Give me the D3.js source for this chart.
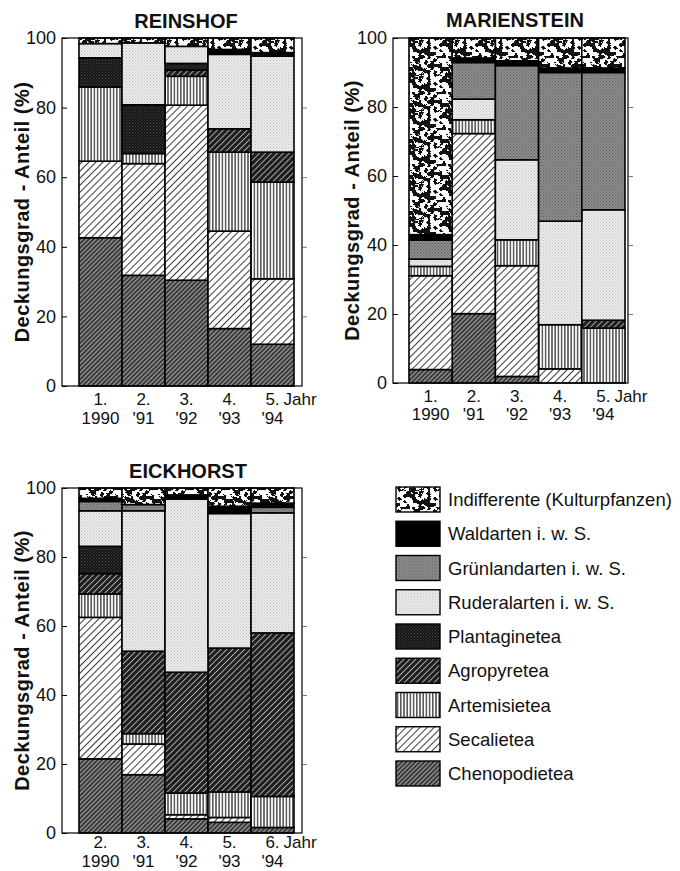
<!DOCTYPE html>
<html>
<head>
<meta charset="utf-8">
<script src="https://cdn.jsdelivr.net/npm/d3@7"></script>
<style>
  html, body { margin: 0; padding: 0; background: #fff; }
  svg { display: block; font-family: "Liberation Sans", Arial, Helvetica, sans-serif; }
</style>
</head>
<body>
<svg id="chart" width="680" height="871"></svg>
<script>
// ---------------- DATA ----------------
// stacking order bottom -> top
const categories = ["Chenopodietea", "Secalietea", "Artemisietea", "Agropyretea", "Plantaginetea",
  "Ruderalarten i. w. S.", "Grünlandarten i. w. S.", "Waldarten i. w. S.", "Indifferente (Kulturpfanzen)"];
const categoryKeys = ["cheno", "secal", "artem", "agro", "plant", "rud", "gruen", "wald", "indiff"];

const yearLabels = ["1990", "'91", "'92", "'93", "'94"];
const reinshofYearNumbers = ["1.", "2.", "3.", "4.", "5."];
const mariensteinYearNumbers = ["1.", "2.", "3.", "4.", "5."];
const eickhorstYearNumbers = ["2.", "3.", "4.", "5.", "6."];
const yTicks = [0, 20, 40, 60, 80, 100];

// Reinshof (% cover per category, years 1990..94)
const reinshofCheno  = [42.6, 31.8, 30.4, 16.5, 12.0];
const reinshofSecal  = [22.0, 32.1, 50.3, 28.0, 18.8];
const reinshofArtem  = [21.3,  2.9,  8.3, 22.7, 27.8];
const reinshofAgro   = [ 0.0,  0.0,  1.8,  6.7,  8.6];
const reinshofPlant  = [ 8.4, 14.0,  1.9,  0.0,  0.0];
const reinshofRud    = [ 4.1, 17.8,  4.9, 21.4, 27.6];
const reinshofGruen  = [ 0.0,  0.0,  0.0,  0.0,  0.0];
const reinshofWald   = [ 0.0,  0.0,  0.0,  1.4,  1.0];
const reinshofIndiff = [ 1.6,  1.4,  2.4,  3.3,  4.2];

// Marienstein
const mariensteinCheno  = [ 3.9, 20.1,  1.9,  0.0,  0.0];
const mariensteinSecal  = [27.2, 52.2, 32.1,  4.1,  0.0];
const mariensteinArtem  = [ 2.7,  4.0,  7.5, 12.8, 15.9];
const mariensteinAgro   = [ 0.0,  0.0,  0.0,  0.0,  2.3];
const mariensteinPlant  = [ 0.0,  0.0,  0.0,  0.0,  0.0];
const mariensteinRud    = [ 2.1,  6.0, 23.2, 30.0, 32.0];
const mariensteinGruen  = [ 5.5, 10.6, 27.3, 43.1, 39.8];
const mariensteinWald   = [ 1.6,  1.3,  1.4,  1.3,  1.3];
const mariensteinIndiff = [57.0,  5.8,  6.6,  8.7,  8.7];

// Eickhorst
const eickhorstCheno  = [21.5, 16.9,  4.1,  3.1,  1.6];
const eickhorstSecal  = [41.0,  8.9,  1.2,  1.4,  0.0];
const eickhorstArtem  = [ 6.8,  3.0,  6.3,  7.4,  9.0];
const eickhorstAgro   = [ 5.9, 23.9, 35.0, 41.7, 47.4];
const eickhorstPlant  = [ 7.9,  0.0,  0.0,  0.0,  0.0];
const eickhorstRud    = [10.3, 40.7, 50.2, 39.0, 34.8];
const eickhorstGruen  = [ 2.7,  1.8,  0.0,  0.0,  1.6];
const eickhorstWald   = [ 0.9,  0.0,  1.2,  2.1,  1.2];
const eickhorstIndiff = [ 3.0,  4.8,  2.0,  5.3,  4.4];

// ---------------- BUILD TABLES ----------------
function buildRows(numbers, series) {
  return numbers.map((n, i) => {
    const row = { id: i, num: n, year: yearLabels[i] };
    categoryKeys.forEach((k, j) => { row[k] = series[j][i]; });
    return row;
  });
}
const reinshofRows = buildRows(reinshofYearNumbers, [reinshofCheno, reinshofSecal, reinshofArtem, reinshofAgro,
  reinshofPlant, reinshofRud, reinshofGruen, reinshofWald, reinshofIndiff]);
const mariensteinRows = buildRows(mariensteinYearNumbers, [mariensteinCheno, mariensteinSecal, mariensteinArtem,
  mariensteinAgro, mariensteinPlant, mariensteinRud, mariensteinGruen, mariensteinWald, mariensteinIndiff]);
const eickhorstRows = buildRows(eickhorstYearNumbers, [eickhorstCheno, eickhorstSecal, eickhorstArtem, eickhorstAgro,
  eickhorstPlant, eickhorstRud, eickhorstGruen, eickhorstWald, eickhorstIndiff]);

// ---------------- PATTERNS ----------------
const svg = d3.select("#chart");
const defs = svg.append("defs");

function hatch(id, bg, stroke, spacing, width, angle) {
  const p = defs.append("pattern").attr("id", id).attr("patternUnits", "userSpaceOnUse")
    .attr("width", spacing).attr("height", spacing)
    .attr("patternTransform", `rotate(${angle})`);
  p.append("rect").attr("width", spacing).attr("height", spacing).attr("fill", bg);
  p.append("line").attr("x1", spacing / 2).attr("x2", spacing / 2).attr("y1", -1).attr("y2", spacing + 1)
    .attr("stroke", stroke).attr("stroke-width", width);
}
function stipple(id, bg, dot, size) {
  const p = defs.append("pattern").attr("id", id).attr("patternUnits", "userSpaceOnUse")
    .attr("width", size).attr("height", size);
  p.append("rect").attr("width", size).attr("height", size).attr("fill", bg);
  p.append("rect").attr("x", 0).attr("y", 0).attr("width", 1).attr("height", 1).attr("fill", dot);
  p.append("rect").attr("x", size / 2).attr("y", size / 2).attr("width", 1).attr("height", 1).attr("fill", dot);
}
// organic speckle texture (deterministic value noise, periodic tile)
function speckle(id) {
  const tile = 36, coarse = 3, g = tile / coarse;
  const p = defs.append("pattern").attr("id", id).attr("patternUnits", "userSpaceOnUse")
    .attr("width", tile).attr("height", tile);
  p.append("rect").attr("width", tile).attr("height", tile).attr("fill", "#fff");
  const h = (i, j) => { i = ((i % g) + g) % g; j = ((j % g) + g) % g;
    const s = Math.sin(i * 12.9898 + j * 78.233) * 43758.5453; return s - Math.floor(s); };
  const sm = t => t * t * (3 - 2 * t);
  const val = (px, py) => {
    const fx = px / coarse, fy = py / coarse, i = Math.floor(fx), j = Math.floor(fy);
    const tx = sm(fx - i), ty = sm(fy - j);
    const a = h(i, j), b = h(i + 1, j), c = h(i, j + 1), d = h(i + 1, j + 1);
    return (a * (1 - tx) + b * tx) * (1 - ty) + (c * (1 - tx) + d * tx) * ty;
  };
  const cells = [];
  for (let x = 0; x < tile; x++) for (let y = 0; y < tile; y++) {
    const v = val(x + 0.5, y + 0.5) * 0.8 + h(x * 7 + 3, y * 5 + 1) * 0.2;
    if (v > 0.5) cells.push([x, y]);
  }
  p.selectAll("rect.c").data(cells).join("rect").attr("class", "c")
    .attr("x", d => d[0]).attr("y", d => d[1])
    .attr("width", 1.05).attr("height", 1.05).attr("fill", "#111");
}

speckle("p-indiff");
stipple("p-gruen", "#8e8e8e", "#5a5a5a", 3);
stipple("p-rud", "#ececec", "#c0c0c0", 3);
stipple("p-plant", "#141414", "#4a4a4a", 3);
hatch("p-agro", "#1e1e1e", "#b5b5b5", 4.2, 0.9, 45);
hatch("p-artem", "#ffffff", "#111", 3.2, 1.1, 0);
hatch("p-secal", "#ffffff", "#222", 5, 0.9, 45);
hatch("p-cheno", "#858585", "#222", 3.2, 1.3, 45);

const fills = {
  cheno: "url(#p-cheno)", secal: "url(#p-secal)", artem: "url(#p-artem)", agro: "url(#p-agro)",
  plant: "url(#p-plant)", rud: "url(#p-rud)", gruen: "url(#p-gruen)", wald: "#000", indiff: "url(#p-indiff)"
};

// ---------------- PANELS ----------------
function panel(cfg) {
  const { rows, title, x0, x1, top, bottom, barStart, barEnd, titleX, titleY, axisTitleX, lab1, lab2 } = cfg;
  const g = svg.append("g");
  const x = d3.scaleBand().domain(rows.map(r => r.id)).range([barStart, barEnd]).padding(0);
  const y = d3.scaleLinear().domain([0, 100]).range([bottom, top]);

  // bars
  const stack = d3.stack().keys(categoryKeys);
  const series = stack(rows);
  g.append("g").selectAll("g").data(series).join("g")
    .attr("fill", d => fills[d.key])
    .selectAll("rect").data(d => d.filter(s => s[1] - s[0] > 0)).join("rect")
    .attr("x", d => x(d.data.id))
    .attr("width", x.bandwidth())
    .attr("y", d => y(d[1]))
    .attr("height", d => y(d[0]) - y(d[1]))
    .attr("stroke", "#000").attr("stroke-width", 1.6);

  // frame
  g.append("rect").attr("x", x0).attr("y", top).attr("width", x1 - x0).attr("height", bottom - top)
    .attr("fill", "none").attr("stroke", "#000").attr("stroke-width", 1.2);

  // axes
  const left = g.append("g").attr("transform", `translate(${x0},0)`)
    .call(d3.axisLeft(y).tickValues(yTicks).tickSize(-5).tickPadding(6));
  left.select(".domain").remove();
  left.selectAll("text").attr("font-size", 18).attr("fill", "#111").attr("font-family", "inherit");
  left.selectAll("line").attr("stroke-width", 1);

  const right = g.append("g").attr("transform", `translate(${x1},0)`)
    .call(d3.axisRight(y).tickValues([20, 40, 60, 80]).tickSize(5).tickFormat(""));
  right.select(".domain").remove();
  right.selectAll("line").attr("stroke-width", 0.8).attr("stroke", "#555");

  // x labels
  const lab = g.append("g").attr("font-size", 17).attr("fill", "#111").attr("text-anchor", "middle");
  lab.selectAll("text.n").data(rows).join("text").attr("class", "n")
    .attr("x", d => x(d.id) + x.bandwidth() / 2).attr("y", bottom + lab1).text(d => d.num);
  lab.selectAll("text.y").data(rows).join("text").attr("class", "y")
    .attr("x", d => x(d.id) + x.bandwidth() / 2).attr("y", bottom + lab2).text(d => d.year);
  const last = rows[rows.length - 1];
  lab.append("text").attr("text-anchor", "start")
    .attr("x", x(last.id) + x.bandwidth() / 2 + 11).attr("y", bottom + lab1).text("Jahr");

  // title
  g.append("text").attr("x", titleX).attr("y", titleY).attr("text-anchor", "middle")
    .attr("font-size", 20).attr("font-weight", "bold").attr("fill", "#111").text(title);

  // axis title
  g.append("text").attr("transform", `translate(${axisTitleX},${(top + bottom) / 2 + 0}) rotate(-90)`)
    .attr("text-anchor", "middle").attr("font-size", 20).attr("font-weight", "bold")
    .attr("letter-spacing", 0.5).attr("fill", "#111").text("Deckungsgrad - Anteil (%)");
}

panel({ rows: reinshofRows, title: "REINSHOF", x0: 62, x1: 302, top: 38, bottom: 386,
  barStart: 79, barEnd: 294, titleX: 186, titleY: 28, axisTitleX: 29, lab1: 19, lab2: 38 });
panel({ rows: mariensteinRows, title: "MARIENSTEIN", x0: 393, x1: 628, top: 38, bottom: 383,
  barStart: 409, barEnd: 625, titleX: 515, titleY: 27, axisTitleX: 359, lab1: 19, lab2: 37 });
panel({ rows: eickhorstRows, title: "EICKHORST", x0: 62, x1: 302, top: 488, bottom: 833,
  barStart: 79, barEnd: 294, titleX: 188, titleY: 478, axisTitleX: 29, lab1: 15, lab2: 34 });

// ---------------- LEGEND ----------------
const legendKeys = categoryKeys.slice().reverse();
const legendNames = categories.slice().reverse();
const ly = d3.scaleBand().domain(d3.range(legendKeys.length)).range([487, 487 + 34.25 * legendKeys.length]);
const leg = svg.append("g");
const item = leg.selectAll("g").data(legendKeys).join("g")
  .attr("transform", (d, i) => `translate(396,${ly(i)})`);
item.append("rect").attr("width", 44).attr("height", 25).attr("fill", d => fills[d])
  .attr("stroke", "#000").attr("stroke-width", 1.4);
item.append("text").attr("x", 52).attr("y", 19).attr("font-size", 18.5).attr("fill", "#111")
  .text((d, i) => legendNames[i]);
</script>
</body>
</html>
